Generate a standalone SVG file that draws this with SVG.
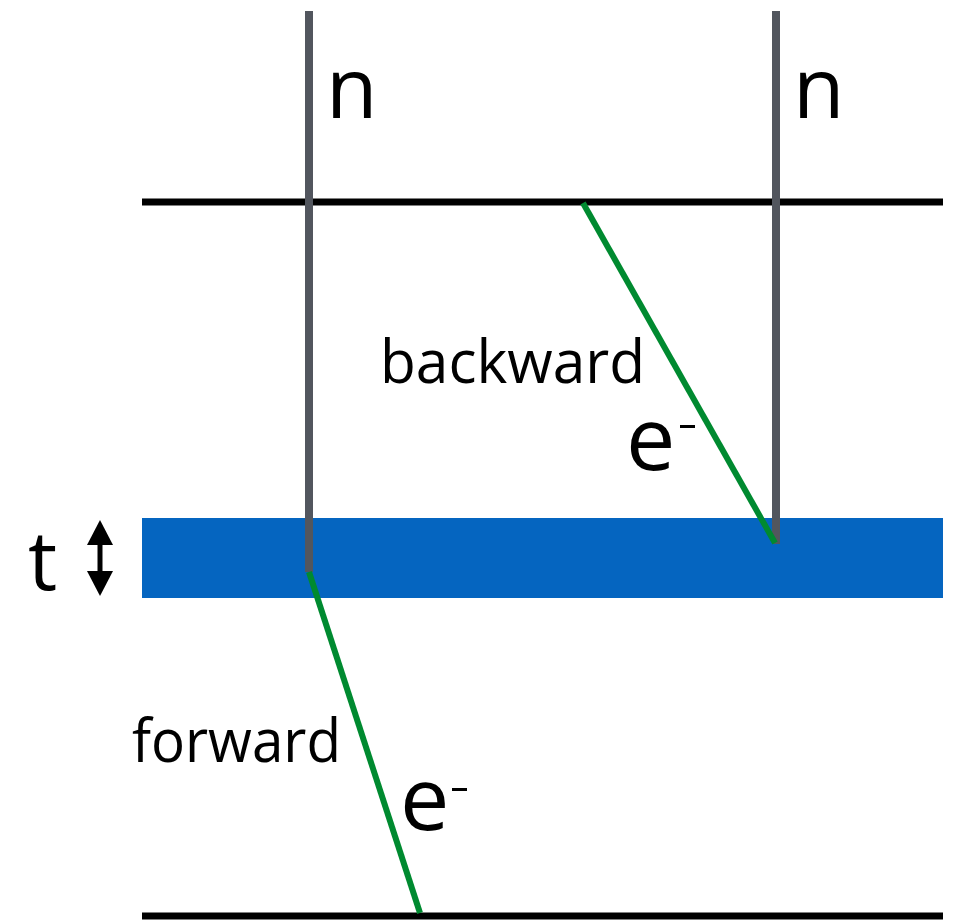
<svg xmlns="http://www.w3.org/2000/svg" width="954" height="923" viewBox="0 0 954 923">
<style>
.lbl{font-family:"Open Sans","Liberation Sans",sans-serif;fill:#000}
.hl{stroke:#000;stroke-width:7}
.nl{stroke:#52565e;stroke-width:8}
.el{stroke:#008a30;stroke-width:6}
</style>
<rect width="954" height="923" fill="#fff"/>
<g id="layer">
<rect x="142" y="518" width="801" height="80" fill="#0565c0"/>
</g>
<g id="plates">
<line class="hl" x1="142" y1="202" x2="943" y2="202"/>
<line class="hl" x1="142" y1="916" x2="943" y2="916"/>
</g>
<g id="connectors">
<line class="nl" x1="309" y1="11" x2="309" y2="572"/>
<line class="nl" x1="776" y1="11" x2="776" y2="544"/>
<line class="el" x1="583" y1="203" x2="775" y2="543"/>
<line class="el" x1="309" y1="572" x2="420" y2="913"/>
</g>
<g id="labels">
<text class="lbl" x="326" y="118" font-size="84">n</text>
<text class="lbl" x="793" y="118" font-size="84">n</text>
<text class="lbl" x="380" y="383" font-size="60" textLength="265" lengthAdjust="spacingAndGlyphs">backward</text>
<text class="lbl" x="132" y="762" font-size="60" textLength="209" lengthAdjust="spacingAndGlyphs">forward</text>
<text class="lbl" x="626" y="470" font-size="88">e</text>
<rect x="680" y="425" width="15" height="3" fill="#000"/>
<text class="lbl" x="400" y="830" font-size="88">e</text>
<rect x="452" y="788" width="15" height="3" fill="#000"/>
<text class="lbl" x="28" y="590" font-size="82">t</text>
</g>
<g id="arrow">
<line x1="100" y1="535" x2="100" y2="580" stroke="#000" stroke-width="5"/>
<polygon points="100,520 113,545 87,545" fill="#000"/>
<polygon points="100,596 113,571 87,571" fill="#000"/>
</g>
</svg>
